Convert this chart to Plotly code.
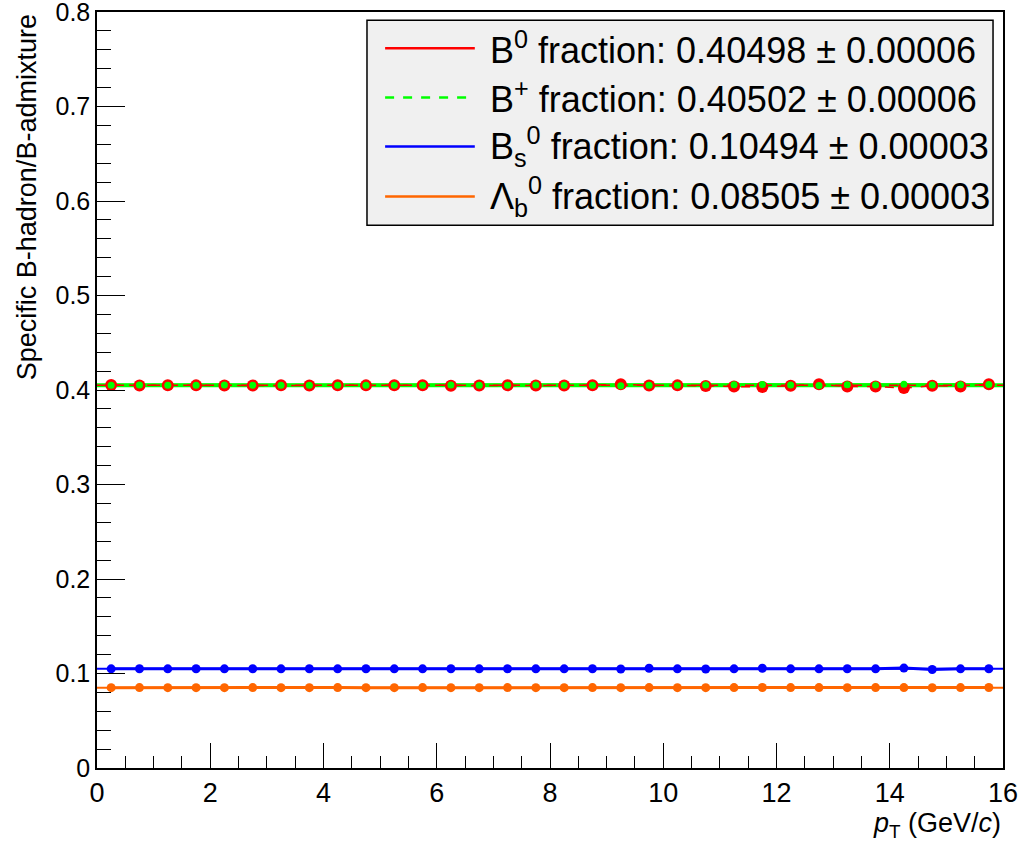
import plotly.graph_objects as go

# ---- data ----
pt = [0.25 + 0.5 * i for i in range(32)]

b0 = [0.4052, 0.4048, 0.4050, 0.4049, 0.4047, 0.4048, 0.4050, 0.4048,
      0.4050, 0.4049, 0.4050, 0.4051, 0.4046, 0.4047, 0.4050, 0.4047,
      0.4048, 0.4050, 0.4062, 0.4047, 0.4049, 0.4043, 0.4037, 0.4031,
      0.4046, 0.4062, 0.4037, 0.4037, 0.4020, 0.4046, 0.4037, 0.4062]
bplus = [0.4050, 0.4052, 0.4050, 0.4051, 0.4052, 0.4050, 0.4050, 0.4051,
         0.4049, 0.4050, 0.4050, 0.4049, 0.4052, 0.4051, 0.4050, 0.4052,
         0.4051, 0.4050, 0.4046, 0.4051, 0.4050, 0.4053, 0.4055, 0.4058,
         0.4052, 0.4047, 0.4055, 0.4054, 0.4060, 0.4052, 0.4055, 0.4058]
bs = [0.1049, 0.1050, 0.1049, 0.1050, 0.1049, 0.1050, 0.1049, 0.1050,
      0.1049, 0.1050, 0.1049, 0.1049, 0.1050, 0.1049, 0.1050, 0.1049,
      0.1049, 0.1050, 0.1048, 0.1055, 0.1049, 0.1048, 0.1049, 0.1055,
      0.1049, 0.1049, 0.1050, 0.1049, 0.1057, 0.1042, 0.1049, 0.1050]
lb = [0.0850, 0.0851, 0.0850, 0.0850, 0.0850, 0.0851, 0.0850, 0.0850,
      0.0851, 0.0850, 0.0850, 0.0851, 0.0850, 0.0850, 0.0851, 0.0850,
      0.0850, 0.0851, 0.0850, 0.0851, 0.0850, 0.0850, 0.0851, 0.0852,
      0.0851, 0.0851, 0.0850, 0.0851, 0.0851, 0.0849, 0.0851, 0.0852]

fit_x = [0, 16]
fit_vals = {"b0": 0.40498, "bplus": 0.40502, "bs": 0.10494, "lb": 0.08505}
legend_labels = [
    "B<sup>0</sup> fraction: 0.40498 \u00b1 0.00006",
    "B<sup>+</sup> fraction: 0.40502 \u00b1 0.00006",
    "B<sub>s</sub><sup>0</sup> fraction: 0.10494 \u00b1 0.00003",
    "\u039b<sub>b</sub><sup>0</sup> fraction: 0.08505 \u00b1 0.00003",
]
x_ticks = [0, 2, 4, 6, 8, 10, 12, 14, 16]
y_ticks = [0, 0.1, 0.2, 0.3, 0.4, 0.5, 0.6, 0.7, 0.8]
y_ticktext = ["0", "0.1", "0.2", "0.3", "0.4", "0.5", "0.6", "0.7", "0.8"]

RED = "#ff0000"
GREEN = "#00ff00"
BLUE = "#0000ff"
ORANGE = "#ff6600"
FONT = "Liberation Sans, Arial, Helvetica, sans-serif"

fig = go.Figure()

# blue and orange
for vals, fitv, col in [(bs, fit_vals["bs"], BLUE), (lb, fit_vals["lb"], ORANGE)]:
    fig.add_trace(go.Scatter(x=fit_x, y=[fitv, fitv], mode="lines",
                             line=dict(color=col, width=2), showlegend=False))
    fig.add_trace(go.Scatter(x=pt, y=vals, mode="lines+markers",
                             line=dict(color=col, width=3),
                             marker=dict(color=col, size=9), showlegend=False))

# green line (thick) under red
fig.add_trace(go.Scatter(x=fit_x, y=[fit_vals["bplus"]] * 2, mode="lines",
                         line=dict(color=GREEN, width=4), showlegend=False))
fig.add_trace(go.Scatter(x=pt, y=bplus, mode="lines",
                         line=dict(color=GREEN, width=3), showlegend=False))
# red
fig.add_trace(go.Scatter(x=pt, y=b0, mode="lines+markers",
                         line=dict(color=RED, width=1.5, dash="dash"),
                         marker=dict(color=RED, size=12), showlegend=False))
fig.add_trace(go.Scatter(x=fit_x, y=[fit_vals["b0"]] * 2, mode="lines",
                         line=dict(color=RED, width=1.5, dash="dash"),
                         showlegend=False))
# green markers on top
fig.add_trace(go.Scatter(x=pt, y=bplus, mode="markers",
                         marker=dict(color=GREEN, size=7), showlegend=False))

# custom ROOT-style legend
shapes = [dict(type="rect", xref="paper", yref="paper",
               x0=0.298, x1=0.989, y0=0.718, y1=0.989,
               fillcolor="#f0f0f0", line=dict(color="black", width=1.5),
               layer="above")]
annotations = []
row_y = [0.952, 0.887, 0.822, 0.756]
line_styles = [(RED, "solid"), (GREEN, "dash"), (BLUE, "solid"), (ORANGE, "solid")]
for yy, (col, dash), lab in zip(row_y, line_styles, legend_labels):
    shapes.append(dict(type="line", xref="paper", yref="paper",
                       x0=0.318, x1=0.417, y0=yy, y1=yy,
                       line=dict(color=col, width=2.5, dash=dash), layer="above"))
    annotations.append(dict(xref="paper", yref="paper", x=0.432, y=yy,
                            xanchor="left", yanchor="middle", text=lab,
                            showarrow=False,
                            font=dict(family=FONT, size=36, color="black")))

# axis titles
annotations.append(dict(xref="paper", yref="paper", x=1.0, y=-0.076,
                        xanchor="right", yanchor="middle",
                        text="<i>p</i><sub>T</sub> (GeV/<i>c</i>)",
                        showarrow=False,
                        font=dict(family=FONT, size=27, color="black")))
annotations.append(dict(xref="paper", yref="paper", x=-0.077, y=1.0,
                        xanchor="center", yanchor="top", textangle=-90,
                        text="Specific B-hadron/B-admixture",
                        showarrow=False,
                        font=dict(family=FONT, size=27, color="black")))

fig.update_layout(
    width=1024, height=842,
    margin=dict(l=97, r=21, t=12, b=74, autoexpand=False),
    paper_bgcolor="white", plot_bgcolor="white",
    font=dict(family=FONT, size=26, color="black"),
    shapes=shapes, annotations=annotations,
    showlegend=False,
)
fig.update_xaxes(range=[0, 16], tickvals=x_ticks, ticktext=[str(v) for v in x_ticks],
                 automargin=False, ticklabeloverflow="allow",
                 ticks="inside", ticklen=25, tickwidth=1.2, tickcolor="black",
                 minor=dict(dtick=0.5, ticks="inside", ticklen=12, tickcolor="black", tickwidth=1.2),
                 showline=True, linecolor="black", linewidth=1.5, mirror=True,
                 showgrid=False, zeroline=False,
                 tickfont=dict(family=FONT, size=27, color="black"))
fig.update_yaxes(range=[0, 0.8], tickvals=y_ticks, ticktext=y_ticktext,
                 automargin=False, ticklabeloverflow="allow",
                 ticks="inside", ticklen=28, tickwidth=1.2, tickcolor="black",
                 minor=dict(dtick=0.02, ticks="inside", ticklen=14, tickcolor="black", tickwidth=1.2),
                 showline=True, linecolor="black", linewidth=1.5, mirror=True,
                 showgrid=False, zeroline=False,
                 tickfont=dict(family=FONT, size=25, color="black"))

fig.write_html("out.html")
